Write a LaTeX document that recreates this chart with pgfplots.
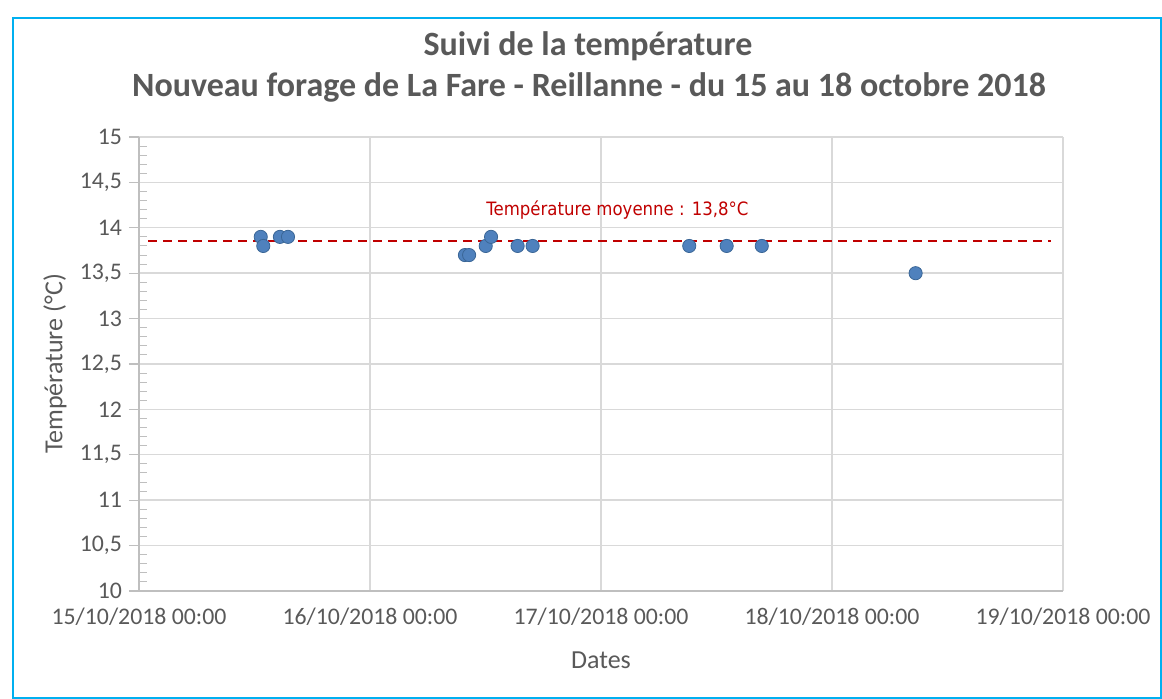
\documentclass[border=0pt]{standalone}
\usepackage{fontspec}
\setmainfont{Carlito}
\newfontfamily\redfont[FakeStretch=0.9]{DejaVu Sans}
\usepackage{pgfplots}
\pgfplotsset{compat=1.18}
\definecolor{txtgray}{HTML}{595959}
\definecolor{gridgray}{HTML}{D9D9D9}
\definecolor{axgray}{HTML}{BFBFBF}
\definecolor{ptblue}{HTML}{4F81BD}
\definecolor{ptedge}{HTML}{3A6696}
\definecolor{meanred}{HTML}{C00000}
\definecolor{frameblue}{HTML}{00B0F0}
\begin{document}
\begin{tikzpicture}
\path[use as bounding box] (0,0) rectangle (581pt,-349.5pt);
\draw[frameblue, line width=1pt] (6.5pt,-9pt) rectangle (580.5pt,-349pt);
\node[txtgray, anchor=base, font=\fontsize{17}{20}\selectfont\bfseries] at (294pt,-28pt) {Suivi de la température};
\node[txtgray, anchor=base, font=\fontsize{17}{20}\selectfont\bfseries] at (294.5pt,-48.5pt) {Nouveau forage de La Fare - Reillanne - du 15 au 18 octobre 2018};
\begin{axis}[
  at={(69.5pt,-295.5pt)}, anchor=south west,
  scale only axis, width=462pt, height=227pt,
  xmin=0, xmax=4, ymin=10, ymax=15,
  axis lines=left,
  axis line style={-, draw=axgray, line width=0.7pt},
  xtick={0,1,2,3,4},
  xticklabels={15/10/2018 00:00,16/10/2018 00:00,17/10/2018 00:00,18/10/2018 00:00,19/10/2018 00:00},
  ytick={10,10.5,11,11.5,12,12.5,13,13.5,14,14.5,15},
  minor y tick num=4,
  grid=major,
  major grid style={gridgray, line width=0.7pt},
  tick align=outside, major tick length=5pt, minor tick length=4pt,
  xtick style={draw=none},
  ytick style={axgray, line width=0.6pt},
  minor y tick style={axgray, line width=0.5pt, xshift=4pt},
  tick label style={txtgray, font=\fontsize{11.9}{14}\selectfont},
  /pgf/number format/use comma,
  /pgf/number format/fixed,
  /pgf/number format/assume math mode=true,
  xlabel={Dates}, ylabel={Température (°C)},
  label style={txtgray, font=\fontsize{13}{15}\selectfont},
  xlabel style={at={(axis description cs:0.5,0)}, anchor=center, yshift=-34.5pt},
  ylabel style={at={(axis description cs:-0.0909,0.5)}, anchor=center},
]
\addplot[meanred, line width=1pt, dash pattern=on 4.5pt off 3pt] coordinates {(0.04,13.85) (3.95,13.85)};
\addplot[only marks, mark=*, mark size=3.3pt, mark options={fill=ptblue, draw=ptedge, line width=0.4pt}] coordinates {
(0.527,13.9) (0.538,13.8) (0.610,13.9) (0.645,13.9)
(1.411,13.7) (1.429,13.7) (1.501,13.8) (1.524,13.9)
(1.639,13.8) (1.704,13.8)
(2.382,13.8) (2.544,13.8) (2.696,13.8)
(3.362,13.5)
};
\node[anchor=base, text=meanred, font=\redfont\fontsize{9.2}{11}\selectfont] at (axis cs:2.071,14.13) {Température moyenne : 13,8°C};
\end{axis}
\end{tikzpicture}
\end{document}
